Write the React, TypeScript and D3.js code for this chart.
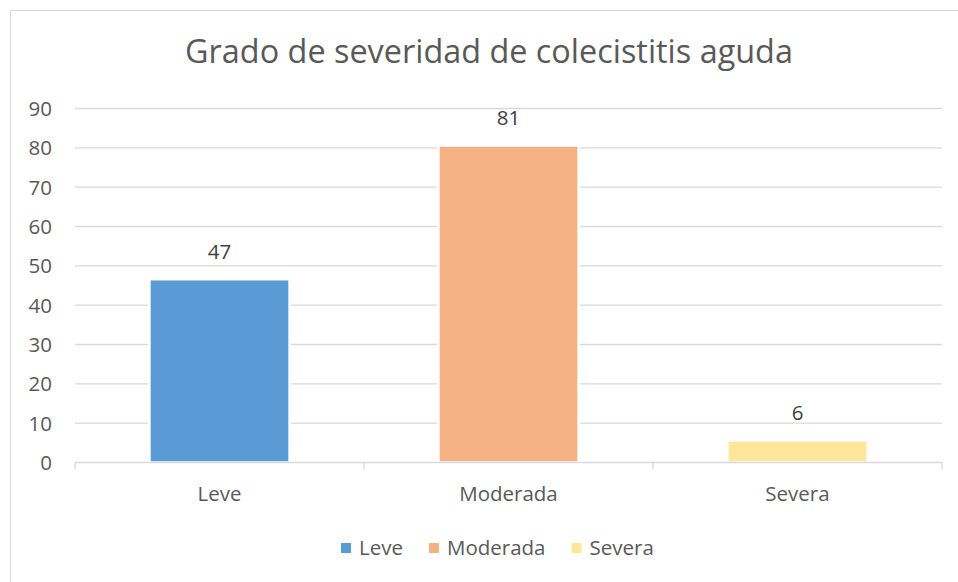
import React, { useRef, useEffect } from "react";
import * as d3 from "d3";

const categories = ["Leve", "Moderada", "Severa"];
const values = [46.6, 80.6, 5.6];
const colors = ["#5B9BD5", "#F4B183", "#FFE699"];
const yTicks = [0, 10, 20, 30, 40, 50, 60, 70, 80, 90];
const title = "Grado de severidad de colecistitis aguda";

const width = 958;
const height = 582;
const font = "'Open Sans', sans-serif";
const textColor = "#595959";
const gridColor = "#D9D9D9";

export default function App() {
  const ref = useRef<SVGSVGElement>(null);

  useEffect(() => {
    const svg = d3.select(ref.current);
    svg.selectAll("*").remove();

    const margin = { top: 108.5, right: 16, bottom: 119.5, left: 75 };
    const innerWidth = width - margin.left - margin.right;
    const innerHeight = height - margin.top - margin.bottom;

    // chart frame
    svg.append("rect")
      .attr("x", 10.5)
      .attr("y", 10.5)
      .attr("width", 960)
      .attr("height", 600)
      .attr("fill", "white")
      .attr("stroke", gridColor)
      .attr("stroke-width", 1);

    svg.append("text")
      .attr("x", 489)
      .attr("y", 63)
      .attr("text-anchor", "middle")
      .attr("font-family", font)
      .attr("font-size", 32.4)
      .attr("fill", textColor)
      .text(title);

    const g = svg.append("g")
      .attr("transform", `translate(${margin.left},${margin.top})`);

    const x = d3.scaleBand().domain(categories).range([0, innerWidth]).padding(0);
    const y = d3.scaleLinear().domain([0, 90]).range([innerHeight, 0]);
    const color = d3.scaleOrdinal<string>().domain(categories).range(colors);

    // gridlines
    g.selectAll("line.grid")
      .data(yTicks.filter(t => t > 0))
      .enter()
      .append("line")
      .attr("x1", 0)
      .attr("x2", innerWidth)
      .attr("y1", d => y(d))
      .attr("y2", d => y(d))
      .attr("stroke", gridColor)
      .attr("stroke-width", 1.3);

    // y labels
    g.selectAll("text.ylab")
      .data(yTicks)
      .enter()
      .append("text")
      .attr("x", -23)
      .attr("y", d => y(d))
      .attr("dy", "0.36em")
      .attr("text-anchor", "end")
      .attr("font-family", font)
      .attr("font-size", 20.5)
      .attr("fill", textColor)
      .text(d => d);

    // bars
    const barW = x.bandwidth() * 0.485;
    g.selectAll("rect.bar")
      .data(values)
      .enter()
      .append("rect")
      .attr("x", (d, i) => x(categories[i])! + (x.bandwidth() - barW) / 2)
      .attr("y", d => y(d))
      .attr("width", barW)
      .attr("height", d => y(0) - y(d))
      .attr("fill", (d, i) => color(categories[i]))
      .attr("stroke", "white")
      .attr("stroke-width", 2.5);

    // value labels
    g.selectAll("text.val")
      .data(values)
      .enter()
      .append("text")
      .attr("x", (d, i) => x(categories[i])! + x.bandwidth() / 2)
      .attr("y", d => y(d) - 20)
      .attr("text-anchor", "middle")
      .attr("font-family", font)
      .attr("font-size", 20.5)
      .attr("fill", "#404040")
      .text(d => Math.round(d));

    // x axis
    g.append("line")
      .attr("x1", 0)
      .attr("x2", innerWidth)
      .attr("y1", y(0))
      .attr("y2", y(0))
      .attr("stroke", gridColor)
      .attr("stroke-width", 1.3);

    [0, 1, 2, 3].forEach(i => {
      const tx = i * x.step();
      g.append("line")
        .attr("x1", tx)
        .attr("x2", tx)
        .attr("y1", y(0))
        .attr("y2", y(0) + 7)
        .attr("stroke", gridColor)
        .attr("stroke-width", 1.3);
    });

    g.selectAll("text.xlab")
      .data(categories)
      .enter()
      .append("text")
      .attr("x", d => x(d)! + x.bandwidth() / 2)
      .attr("y", innerHeight + 38)
      .attr("text-anchor", "middle")
      .attr("font-family", font)
      .attr("font-size", 20.5)
      .attr("fill", textColor)
      .text(d => d);

    // legend
    const legend = svg.append("g").attr("transform", "translate(341, 548)");
    let cursor = 0;
    categories.forEach((c) => {
      legend.append("rect")
        .attr("x", cursor)
        .attr("y", -5)
        .attr("width", 10)
        .attr("height", 10)
        .attr("fill", color(c));
      const t = legend.append("text")
        .attr("x", cursor + 18)
        .attr("y", 0)
        .attr("dy", "0.36em")
        .attr("font-family", font)
        .attr("font-size", 20.5)
        .attr("fill", textColor)
        .text(c);
      const w = (t.node() as SVGTextElement).getComputedTextLength();
      cursor += 18 + w + 26;
    });
  }, []);

  return (
    <svg
      ref={ref}
      width={width}
      height={height}
      style={{ position: "absolute", left: 0, top: 0 }}
    />
  );
}
